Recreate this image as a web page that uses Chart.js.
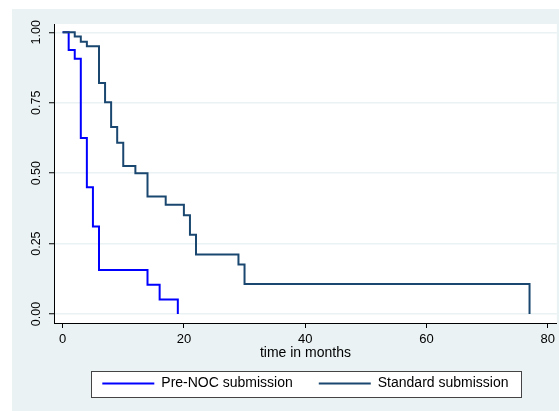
<!DOCTYPE html>
<html>
<head>
<meta charset="utf-8">
<script src="https://cdn.jsdelivr.net/npm/chart.js@4.4.0/dist/chart.umd.min.js"></script>
<style>
  html, body { margin: 0; padding: 0; background: #fff; }
</style>
</head>
<body>
<canvas id="kmChart" width="559" height="411"></canvas>
<script>
// Kaplan-Meier estimates
const preTime = [0, 1, 2, 3, 4, 5, 6, 14, 16, 19];
const preSurv = [1, 0.9375, 0.906, 0.625, 0.45, 0.311, 0.156, 0.104, 0.052, 0];
const stdTime = [0, 2, 3, 4, 6, 7, 8, 9, 10, 12, 14, 17, 20, 21, 22, 29, 30, 77];
const stdSurv = [1, 0.985, 0.966, 0.95, 0.82, 0.752, 0.664, 0.608, 0.525, 0.5, 0.417, 0.388, 0.351, 0.281, 0.211, 0.176, 0.107, 0];
const xTicks = [0, 20, 40, 60, 80];
const yTicks = [0, 0.25, 0.5, 0.75, 1];

const font = 'Liberation Sans, Arial, Helvetica, sans-serif';
const bgColor = '#eaf2f3';

function toPoints(t, s) {
    return t.map((v, i) => ({ x: v, y: s[i] }));
}

// background, white plot region and the boxed legend
const framePlugin = {
    id: 'frame',
    beforeDraw(chart) {
        const c = chart.ctx;
        const ca = chart.chartArea;
        c.save();
        c.fillStyle = bgColor;
        c.fillRect(12, 9, chart.width - 12, chart.height - 9);
        c.fillStyle = '#fff';
        c.fillRect(ca.left, ca.top, ca.right - ca.left, ca.bottom - ca.top);

        const boxes = chart.legend.legendHitBoxes;
        if (boxes && boxes.length) {
            let l = Infinity, r = -Infinity, cy = 0;
            boxes.forEach(b => {
                l = Math.min(l, b.left);
                r = Math.max(r, b.left + b.width);
                cy = b.top + b.height / 2;
            });
            const x0 = Math.round(l - 11) + 0.5;
            const x1 = Math.round(r + 12) + 0.5;
            const y0 = Math.round(cy - 13) + 0.5;
            const y1 = Math.round(cy + 13) + 0.5;
            c.fillStyle = '#fff';
            c.fillRect(x0, y0, x1 - x0, y1 - y0);
            c.strokeStyle = '#444';
            c.lineWidth = 1;
            c.strokeRect(x0, y0, x1 - x0, y1 - y0);
        }
        c.restore();
    }
};

const ctx = document.getElementById('kmChart');
const kmChart = new Chart(ctx, {
    type: 'line',
    data: {
        datasets: [{
            label: 'Pre-NOC submission',
            data: toPoints(preTime, preSurv),
            borderColor: '#0000ff',
            backgroundColor: '#0000ff',
            borderWidth: 2,
            stepped: true,
            pointRadius: 0,
            fill: false,
            order: 1
        },
        {
            label: 'Standard submission',
            data: toPoints(stdTime, stdSurv),
            borderColor: '#1a476f',
            backgroundColor: '#1a476f',
            borderWidth: 2,
            stepped: true,
            pointRadius: 0,
            fill: false,
            order: 0
        }]
    },
    options: {
        responsive: false,
        animation: false,
        devicePixelRatio: 1,
        events: [],
        layout: {
            padding: { top: 24, right: 2, left: 0, bottom: 10.5 }
        },
        scales: {
            x: {
                type: 'linear',
                min: -1.42,
                max: 81.5,
                afterBuildTicks: (scale) => { scale.ticks = xTicks.map(v => ({ value: v })); },
                afterFit: (scale) => { scale.height = 27.5; },
                ticks: {
                    autoSkip: false,
                    maxRotation: 0,
                    padding: 4,
                    color: '#000',
                    font: { family: font, size: 13 },
                    callback: (v) => String(v)
                },
                grid: {
                    drawOnChartArea: false,
                    drawTicks: true,
                    tickLength: 5,
                    tickColor: '#000'
                },
                border: { display: true, color: '#000', width: 1 },
                title: {
                    display: true,
                    text: 'time in months',
                    color: '#000',
                    font: { family: font, size: 14 },
                    padding: { top: 0, bottom: -11 }
                }
            },
            y: {
                type: 'linear',
                min: -0.0318,
                max: 1.0294,
                afterBuildTicks: (scale) => { scale.ticks = yTicks.map(v => ({ value: v })); },
                afterFit: (scale) => { scale.width = 54; },
                ticks: {
                    autoSkip: false,
                    minRotation: 90,
                    maxRotation: 90,
                    crossAlign: 'center',
                    padding: 0,
                    color: '#000',
                    font: { family: font, size: 12.5 },
                    callback: (v) => v.toFixed(2)
                },
                grid: {
                    color: bgColor,
                    lineWidth: 1.5,
                    drawTicks: true,
                    tickLength: 5,
                    tickColor: '#000',
                    tickWidth: 1
                },
                border: { display: true, color: '#000', width: 1 }
            }
        },
        plugins: {
            tooltip: { enabled: false },
            legend: {
                position: 'bottom',
                fullSize: false,
                labels: {
                    usePointStyle: true,
                    pointStyle: 'line',
                    pointStyleWidth: 52,
                    padding: 26,
                    color: '#000',
                    font: { family: font, size: 14 },
                    sort: (a, b) => a.datasetIndex - b.datasetIndex
                }
            }
        }
    },
    plugins: [framePlugin]
});
</script>
</body>
</html>
